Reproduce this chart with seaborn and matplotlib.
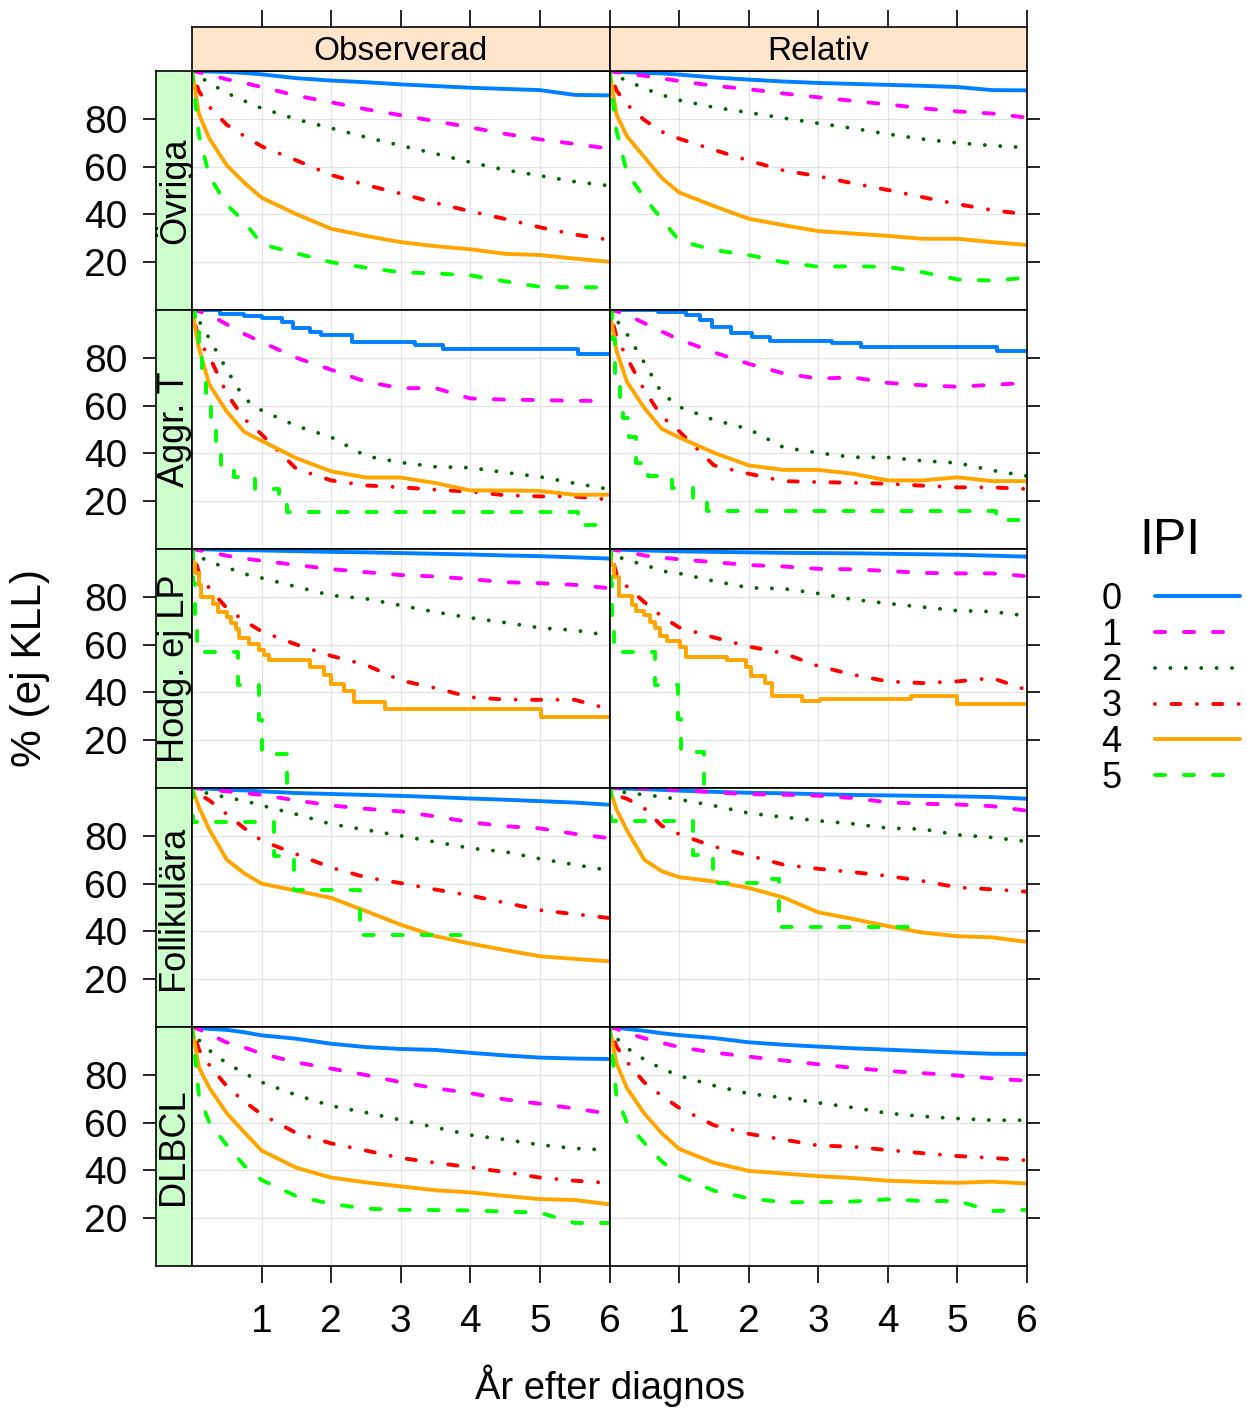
import matplotlib
matplotlib.use("Agg")
import matplotlib.pyplot as plt
from matplotlib.lines import Line2D
import seaborn as sns

sns.set_style("white")
plt.rcParams["font.family"] = ["Liberation Sans", "DejaVu Sans"]
plt.rcParams["text.color"] = "black"
plt.rcParams["xtick.color"] = "black"
plt.rcParams["ytick.color"] = "black"
plt.rcParams["lines.dash_capstyle"] = "round"

# ---- data ----
ROWS = ["Övriga", "Aggr. T", "Hodg. ej LP", "Follikulära", "DLBCL"]
COLS = ["Observerad", "Relativ"]
IPI_LABELS = ["0", "1", "2", "3", "4", "5"]
X_TICKS = [1, 2, 3, 4, 5, 6]
Y_TICKS = [20, 40, 60, 80]

# common time grid (years) for the smooth-looking curves
T_YEARS = [0, 0.1, 0.25, 0.5, 0.75, 1, 1.5, 2, 2.5, 3, 3.5, 4, 4.5, 5, 5.5, 6]

# one list per IPI group 0..5, None = drawn as a step curve below
OVRIGA_OBS = [
    [100, 99.9, 99.8, 99.6, 99.2, 98.6, 97, 96, 95.3, 94.4, 93.7, 93, 92.5, 92, 90, 89.8],
    [100, 99.5, 98.5, 96.5, 95, 93.3, 89.7, 86.9, 84, 81.5, 79, 76.4, 73.7, 71.4, 69.5, 67.5],
    [100, 97.8, 95, 90.8, 87.5, 84.4, 79.8, 76.1, 72.3, 68.8, 65.4, 61.8, 58.6, 56.2, 53.7, 52],
    [100, 91.5, 85, 77.5, 72.8, 68.5, 62.6, 56.5, 52.3, 48.7, 44.8, 41.3, 38.1, 34.6, 31.6, 29.3],
    [100, 82, 71.7, 60.5, 53.3, 47, 40.1, 34, 31, 28.4, 26.7, 25.4, 23.5, 23, 21.5, 20.2],
    [100, 73, 56, 44, 37, 27.5, 23.7, 20, 17.7, 15.8, 15.3, 14.5, 12, 9.7, 9.5, 9.5],
]
OVRIGA_REL = [
    [100, 99.8, 99.5, 99.2, 99, 98.5, 97.3, 96.4, 95.6, 95, 94.6, 94.2, 93.8, 93.3, 92, 91.9],
    [100, 99.5, 99, 98, 96.9, 95.8, 93.8, 92.4, 90.6, 89, 87.5, 86, 84.4, 83.1, 82.2, 80.5],
    [100, 97.8, 96, 92.7, 90, 87.8, 84.8, 82.6, 80.3, 78.1, 76, 73.6, 71.5, 69.9, 68.8, 67.9],
    [100, 91.9, 86, 79.5, 74.6, 71.7, 67, 62.5, 58.4, 56, 53, 50.2, 47.2, 44.3, 41.8, 40],
    [100, 81.8, 72.7, 64, 55.3, 49.2, 43.5, 38.2, 35.5, 33, 32, 31, 29.8, 29.8, 28.4, 27.2],
    [100, 75, 57.5, 47, 38, 29, 25.1, 23, 20, 18.1, 18.3, 18, 15.8, 12.8, 12.3, 13.5],
]
AGGR_OBS = [
    None,
    [100, 99.5, 98, 94, 90, 86.6, 80, 75, 70, 67.3, 67.3, 63, 62.5, 62.3, 62, 62],
    [100, 95.5, 88, 75, 63, 58, 51.5, 46.8, 38.9, 36.2, 34.4, 34, 32, 30.2, 27.5, 25],
    [100, 87, 80.5, 65, 54.5, 48, 33.5, 28.7, 26.6, 25.8, 24.8, 24, 22.5, 22, 22, 20.6],
    [100, 84, 68.7, 57.5, 49, 45.3, 38, 32.5, 29.9, 29.9, 27.6, 24.5, 24.5, 24.3, 22.7, 22.7],
    None,
]
AGGR_REL = [
    None,
    [100, 99.5, 98, 94.5, 91, 87.7, 82.3, 77.5, 73.5, 71.3, 71.8, 69.5, 68.5, 67.9, 68.7, 69.5],
    [100, 95.8, 90, 78, 65.3, 59.5, 54, 50.2, 42.5, 40.2, 38.4, 38.3, 36.9, 36, 32.9, 30.5],
    [100, 88.9, 80, 66.5, 55.5, 49.3, 35, 31.5, 28.4, 28, 27.7, 27.3, 26.5, 25.8, 25.8, 25.1],
    [100, 83, 70, 59, 50.3, 46.7, 40.3, 35, 33.1, 33.1, 31.5, 28.7, 28.7, 30, 28.4, 28.4],
    None,
]
HODG_OBS = [
    [100, 99.9, 99.8, 99.6, 99.5, 99.4, 99.1, 98.8, 98.6, 98.3, 98, 97.7, 97.3, 97, 96.5, 96],
    [100, 99.5, 98.7, 97.2, 96, 95.1, 93.3, 91.6, 90.3, 89.1, 88.5, 87.4, 86.1, 85.7, 85, 83.6],
    [100, 97, 94.5, 92.3, 89.6, 87.9, 84.2, 80.6, 79.2, 76.4, 73.6, 71.2, 69.2, 67, 66, 63.8],
    [100, 90, 83.5, 75.2, 70, 65.5, 60, 55.3, 51.5, 45, 41.8, 38, 37, 36.9, 36.9, 33],
    None,
    None,
]
HODG_REL = [
    [100, 99.8, 99.6, 99.4, 99.2, 99, 98.8, 98.6, 98.4, 98.3, 98.2, 98, 97.8, 97.6, 97.2, 96.8],
    [100, 99.5, 98.8, 97.3, 96.4, 95.7, 94.5, 93.3, 92.7, 91.7, 91.5, 90.8, 90, 89.8, 89.8, 88.6],
    [100, 97.2, 95.2, 93.5, 90.8, 89.8, 86.6, 83.8, 83.4, 81.4, 78.9, 77.2, 75.7, 74.2, 73.8, 72],
    [100, 89.8, 84.3, 77.8, 71.8, 67.2, 63, 59.2, 56.4, 51, 47.4, 44.6, 43.9, 44.6, 46, 41],
    None,
    None,
]
FOLL_OBS = [
    [100, 99.9, 99.7, 99.3, 99, 98.6, 97.9, 97.5, 97.1, 96.7, 96.2, 95.6, 95.1, 94.5, 93.9, 93],
    [100, 99.8, 99.3, 98.6, 97.9, 97.1, 94.8, 92.7, 91.3, 90.2, 88.1, 85.7, 84, 83.1, 80.8, 79],
    [100, 98.5, 97.7, 96, 94.7, 92.7, 89, 84.9, 82.5, 80, 77.4, 74.8, 73.3, 70.4, 67.9, 65.5],
    [100, 97.5, 94.8, 89, 83.2, 78, 72.3, 66.7, 62.6, 60.2, 57.5, 55, 52, 48.9, 47.2, 45.6],
    [100, 92, 82.5, 70, 64.3, 60, 57, 54, 48.5, 42.8, 38, 34.9, 32.2, 29.6, 28.5, 27.5],
    None,
]
FOLL_REL = [
    [100, 99.9, 99.7, 99.5, 99.2, 98.9, 98.4, 98, 97.8, 97.4, 97.1, 96.9, 96.7, 96.5, 96.2, 95.5],
    [100, 100, 99.9, 99.8, 99.6, 99.2, 98.2, 97.4, 97.2, 96.8, 95.8, 94, 93.4, 93.1, 92.4, 90.5],
    [100, 99, 97.9, 97.2, 96.3, 95.2, 92.6, 89.5, 87.8, 86.3, 85, 83.2, 82.8, 80.4, 79.3, 77.6],
    [100, 96.9, 95.5, 91.5, 84.2, 80.7, 75.5, 71.8, 67.9, 66.2, 64.8, 63.2, 61.1, 58.4, 57.6, 56.6],
    [100, 91, 82.3, 70, 65.2, 62.7, 60.9, 58.2, 54.2, 48, 45.2, 42.2, 39.5, 38, 37.5, 35.6],
    None,
]
DLBCL_OBS = [
    [100, 99.6, 99.2, 98.8, 97.8, 96.5, 95.1, 93, 91.6, 90.8, 90.4, 89.2, 88.1, 87.2, 86.8, 86.6],
    [100, 99, 97, 93.5, 91.5, 88.8, 85.2, 82.6, 79.9, 76.9, 74.4, 72.3, 69.7, 67.9, 65.9, 63.7],
    [100, 94.5, 90.2, 84.8, 80.7, 76.9, 71.5, 67, 64.2, 61.1, 58, 54.8, 52.9, 50.7, 49.2, 48.5],
    [100, 90.5, 84, 75.2, 68.8, 63.5, 55.6, 51.3, 48.3, 45.2, 43.2, 41.3, 39.3, 37, 35.7, 34.7],
    [100, 83, 74.5, 63.9, 56, 48.3, 41.1, 37, 35, 33.3, 31.7, 30.8, 29.3, 28, 27.6, 25.8],
    [100, 71, 60, 50.5, 42, 36, 29.2, 26, 24, 23.5, 23.4, 23.2, 22.8, 22.3, 18, 18],
]
DLBCL_REL = [
    [100, 99.7, 99.2, 98.4, 97.4, 96.6, 95.4, 93.6, 92.6, 91.8, 91.1, 90.5, 89.9, 89.3, 88.8, 88.7],
    [100, 99.3, 97.5, 95.3, 93.4, 91.6, 89.3, 87.6, 86, 84.4, 82.9, 81.6, 80.7, 79.7, 78.5, 77.5],
    [100, 95.4, 91.2, 86.4, 82.6, 79.6, 75.5, 72.1, 70.4, 68.3, 66.3, 63.9, 62.6, 61.7, 61, 61],
    [100, 91.9, 85.4, 76.8, 71.2, 66.2, 58.9, 55.3, 52.9, 50.4, 49.9, 48.5, 47.2, 46, 45.2, 44.2],
    [100, 84.8, 74.5, 63.8, 55.6, 49, 43.2, 39.8, 38.7, 37.6, 36.8, 35.7, 35.2, 34.8, 35.3, 34.5],
    [100, 71, 60, 51.5, 43.8, 37.8, 31.5, 28.3, 26.7, 26.7, 27, 27.9, 27.2, 27.2, 23, 23.5],
]

# step curves (time of each step, level after it)
AGGR_OBS_0_T = [0, 0.4, 0.75, 1.0, 1.3, 1.45, 1.7, 1.85, 2.3, 3.2, 3.6, 5.55, 6]
AGGR_OBS_0_S = [100, 98.5, 97.5, 96.5, 95, 92.3, 90.9, 89.6, 86.8, 85.4, 83.6, 81.6, 81.6]
AGGR_OBS_5_T = [0, 0.05, 0.1, 0.15, 0.2, 0.28, 0.35, 0.42, 0.6, 0.9, 1.25, 1.37, 5.55, 6]
AGGR_OBS_5_S = [100, 92, 80, 70, 60, 52, 42, 35, 30.1, 25.1, 19.9, 15.3, 10.2, 10.2]
AGGR_REL_0_T = [0, 0.7, 1.1, 1.3, 1.48, 1.75, 2.05, 2.3, 3.2, 3.62, 5.57, 6]
AGGR_REL_0_S = [100, 99, 97.9, 96, 92.8, 90.3, 88.9, 87.2, 86.1, 84.4, 82.9, 82.9]
AGGR_REL_5_T = [0, 0.04, 0.08, 0.15, 0.2, 0.28, 0.38, 0.55, 0.9, 1.2, 1.4, 5.56, 6]
AGGR_REL_5_S = [100, 88, 72, 62, 55, 47, 36, 30.6, 25.5, 20.6, 15.7, 12.3, 12.3]
HODG_OBS_4_T = [0, 0.02, 0.05, 0.1, 0.13, 0.3, 0.37, 0.5, 0.56, 0.63, 0.68, 0.82, 0.97,
                1.04, 1.11, 1.7, 1.9, 2.0, 2.19, 2.33, 2.78, 5.01, 6]
HODG_OBS_4_S = [100, 94, 90, 85, 80.1, 77, 73.8, 71.5, 69, 66.4, 62.7, 60.3, 57.8,
                55.7, 53.4, 50.6, 47.4, 43.6, 40.4, 35.9, 33.1, 29.7, 29.7]
HODG_OBS_5_T = [0, 0.015, 0.04, 0.07, 0.66, 0.97, 1.0, 1.36]
HODG_OBS_5_S = [100, 85.7, 71.4, 57.1, 42.9, 28.6, 14.3, 0]
HODG_REL_4_T = [0, 0.02, 0.07, 0.14, 0.33, 0.38, 0.5, 0.58, 0.66, 0.72, 0.82, 1.01, 1.1,
                1.69, 1.96, 2.03, 2.23, 2.33, 2.77, 3.02, 4.33, 5.0, 6]
HODG_REL_4_S = [100, 93.3, 88.4, 80.4, 76.6, 74.2, 72.4, 69.6, 66.9, 63.4, 61.7, 59.2, 55,
                53.6, 50.8, 46.9, 43.9, 38.7, 36.6, 37.2, 38.6, 35.1, 35.1]
HODG_REL_5_T = [0, 0.015, 0.04, 0.07, 0.65, 0.98, 1.03, 1.36]
HODG_REL_5_S = [100, 85.7, 71.4, 57.1, 43.3, 29, 14.9, 0]
FOLL_OBS_5_T = [0, 0.02, 1.18, 1.47, 2.42, 4.09]
FOLL_OBS_5_S = [100, 85.8, 71.4, 57.4, 38.4, 38.4]
FOLL_REL_5_T = [0, 0.02, 1.2, 1.49, 2.3, 2.43, 4.33, 4.36]
FOLL_REL_5_S = [100, 86.1, 72, 60.3, 61.9, 41.9, 45, 45]

PANELS = [[OVRIGA_OBS, OVRIGA_REL], [AGGR_OBS, AGGR_REL], [HODG_OBS, HODG_REL],
          [FOLL_OBS, FOLL_REL], [DLBCL_OBS, DLBCL_REL]]
STEPS = {
    (1, 0, 0): (AGGR_OBS_0_T, AGGR_OBS_0_S), (1, 0, 5): (AGGR_OBS_5_T, AGGR_OBS_5_S),
    (1, 1, 0): (AGGR_REL_0_T, AGGR_REL_0_S), (1, 1, 5): (AGGR_REL_5_T, AGGR_REL_5_S),
    (2, 0, 4): (HODG_OBS_4_T, HODG_OBS_4_S), (2, 0, 5): (HODG_OBS_5_T, HODG_OBS_5_S),
    (2, 1, 4): (HODG_REL_4_T, HODG_REL_4_S), (2, 1, 5): (HODG_REL_5_T, HODG_REL_5_S),
    (3, 0, 5): (FOLL_OBS_5_T, FOLL_OBS_5_S), (3, 1, 5): (FOLL_REL_5_T, FOLL_REL_5_S),
}

# ---- styles ----
IPI_COLORS = ["#0080FF", "#FF00FF", "#006400", "#FF0000", "#FFA500", "#00FF00"]
IPI_STYLES = ["-", (0, (2.6, 4.85)), (0, (0.01, 3.95)), (0, (0.01, 4.2, 2.35, 4.2)), "-",
              (0, (2.6, 4.85))]
LW = 2.8
GRID_COLOR = "#E2E2E2"
TOP_STRIP = "#FFE5CC"
SIDE_STRIP = "#CCFFCC"

W, H = 1247, 1410
COL_EDGES = [192, 609.5, 1027]
ROW_TOP, ROW_H = 71, 239
STRIP_TOP, STRIP_LEFT = 27, 156


def fig_rect(x0, y0, x1, y1):
    return [x0 / W, 1 - y1 / H, (x1 - x0) / W, (y1 - y0) / H]


def black_frame(ax):
    for s in ax.spines.values():
        s.set_visible(True)
        s.set_color("black")
        s.set_linewidth(1.2)


fig = plt.figure(figsize=(W / 100, H / 100), dpi=100)

for r, row_name in enumerate(ROWS):
    yt = ROW_TOP + r * ROW_H
    yb = yt + ROW_H

    # row strip on the left, carries the y tick labels
    sax = fig.add_axes(fig_rect(STRIP_LEFT, yt, COL_EDGES[0], yb))
    sax.set_facecolor(SIDE_STRIP)
    sax.set_xlim(0, 1)
    sax.set_ylim(0, 100)
    sax.set_xticks([])
    sax.set_yticks(Y_TICKS)
    sax.tick_params(axis="y", left=True, labelleft=True, direction="out", length=9.4,
                    width=1.2, color="black", pad=11, labelsize=28)
    sax.text(0.5, 0.5, row_name, rotation=90, ha="center", va="center",
             transform=sax.transAxes, fontsize=26)
    black_frame(sax)

    for c, col_name in enumerate(COLS):
        ax = fig.add_axes(fig_rect(COL_EDGES[c], yt, COL_EDGES[c + 1], yb))
        series = PANELS[r][c]
        for k in range(6):
            if series[k] is None:
                t, s = STEPS[(r, c, k)]
                ds = "steps-post"
            else:
                t, s = T_YEARS, series[k]
                ds = "default"
            sns.lineplot(x=t, y=s, ax=ax, color=IPI_COLORS[k], linestyle=IPI_STYLES[k],
                         linewidth=LW, drawstyle=ds, estimator=None, sort=False,
                         errorbar=None, legend=False)
        ax.set_xlim(0, 6)
        ax.set_ylim(0, 100)
        ax.set_xticks(X_TICKS)
        ax.set_yticks(Y_TICKS)
        ax.set_xlabel("")
        ax.set_ylabel("")
        ax.grid(True, color=GRID_COLOR, linewidth=0.9)
        ax.set_axisbelow(True)
        ax.tick_params(left=False, right=False, top=False, bottom=False,
                       labelleft=False, labelbottom=False)
        if c == 1:
            ax.tick_params(axis="y", right=True, direction="out", length=9.4,
                           width=1.2, color="black")
        if r == len(ROWS) - 1:
            ax.tick_params(axis="x", bottom=True, labelbottom=True, direction="out",
                           length=12.5, width=1.2, color="black", pad=14.5, labelsize=28)
        black_frame(ax)

        if r == 0:
            tax = fig.add_axes(fig_rect(COL_EDGES[c], STRIP_TOP, COL_EDGES[c + 1], ROW_TOP))
            tax.set_facecolor(TOP_STRIP)
            tax.set_xlim(0, 6)
            tax.set_xticks(X_TICKS)
            tax.set_yticks([])
            tax.tick_params(axis="x", top=True, bottom=False, labeltop=False,
                            labelbottom=False, direction="out", length=12.5,
                            width=1.2, color="black")
            tax.text(0.5, 0.45, col_name, ha="center", va="center",
                     transform=tax.transAxes, fontsize=24)
            black_frame(tax)

fig.text(30 / W, 1 - 668 / H, "% (ej KLL)", rotation=90, ha="center", va="center",
         fontsize=30.5)
fig.text(610 / W, 1 - 1386 / H, "År efter diagnos", ha="center", va="center",
         fontsize=27.5)

handles = [Line2D([], [], color=IPI_COLORS[k], linestyle=IPI_STYLES[k], linewidth=LW)
           for k in range(6)]
fig.legend(handles, IPI_LABELS, loc="upper left", bbox_to_anchor=(1101 / W, 1 - 582 / H),
           frameon=False, markerfirst=False, handlelength=2.35, handletextpad=0.94,
           labelspacing=0.02, borderpad=0, borderaxespad=0, fontsize=26)
fig.text(1170 / W, 1 - 541 / H, "IPI", ha="center", va="center", fontsize=36)

fig.savefig("out.png", dpi=100)
